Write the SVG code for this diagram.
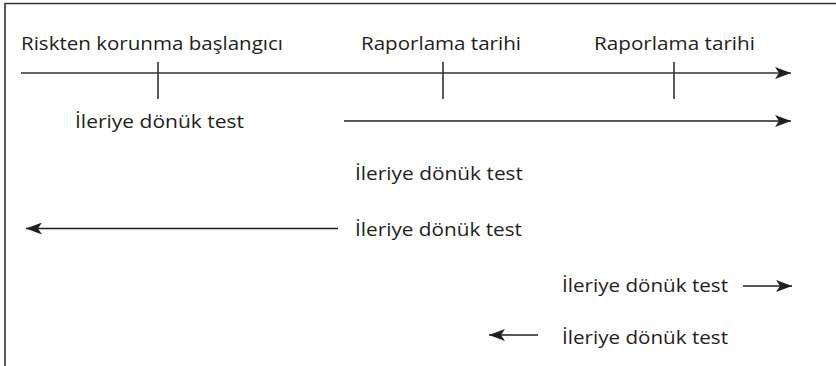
<svg xmlns="http://www.w3.org/2000/svg" width="836" height="366" viewBox="0 0 836 366">
<style>
.t{font-family:"Open Sans","Liberation Sans",sans-serif;font-size:19px;fill:#231f20}
.ln{stroke:#333;stroke-width:1.6;fill:none}
.ar{stroke:#231f20;stroke-width:1.6;fill:none}
</style>
<defs>
<marker id="ah" viewBox="-16 -6 16 12" refX="0" refY="0" markerUnits="userSpaceOnUse" markerWidth="16" markerHeight="12" orient="auto">
<path d="M0,0 L-16,-6 L-12,0 L-16,6 Z" fill="#231f20"/>
</marker>
</defs>
<g id="frame">
<line class="ln" x1="5" y1="3.5" x2="836" y2="3.5"/>
<line class="ln" x1="5" y1="3" x2="5" y2="366"/>
</g>
<g id="connectors">
<line class="ln" x1="21" y1="73" x2="791" y2="73" marker-end="url(#ah)"/>
<line class="ln" x1="158" y1="62" x2="158" y2="99"/>
<line class="ln" x1="443" y1="62" x2="443" y2="99"/>
<line class="ln" x1="674" y1="62" x2="674" y2="99"/>
<line class="ar" x1="344" y1="121" x2="791" y2="121" marker-end="url(#ah)"/>
<line class="ar" x1="338" y1="228.5" x2="26" y2="228.5" marker-end="url(#ah)"/>
<line class="ar" x1="743" y1="286" x2="792" y2="286" marker-end="url(#ah)"/>
<line class="ar" x1="538" y1="335" x2="489" y2="335" marker-end="url(#ah)"/>
</g>
<g id="n-start"><text class="t" x="21" y="50" textLength="262" lengthAdjust="spacingAndGlyphs">Riskten korunma başlangıcı</text></g>
<g id="n-report1"><text class="t" x="361" y="50" textLength="160" lengthAdjust="spacingAndGlyphs">Raporlama tarihi</text></g>
<g id="n-report2"><text class="t" x="594" y="50" textLength="161" lengthAdjust="spacingAndGlyphs">Raporlama tarihi</text></g>
<g id="n-test1"><text class="t" x="75" y="128" textLength="169" lengthAdjust="spacingAndGlyphs">İleriye dönük test</text></g>
<g id="n-test2"><text class="t" x="355" y="180" textLength="168" lengthAdjust="spacingAndGlyphs">İleriye dönük test</text></g>
<g id="n-test3"><text class="t" x="355" y="236" textLength="167" lengthAdjust="spacingAndGlyphs">İleriye dönük test</text></g>
<g id="n-test4"><text class="t" x="562" y="292" textLength="166" lengthAdjust="spacingAndGlyphs">İleriye dönük test</text></g>
<g id="n-test5"><text class="t" x="562" y="344" textLength="166" lengthAdjust="spacingAndGlyphs">İleriye dönük test</text></g>
</svg>
